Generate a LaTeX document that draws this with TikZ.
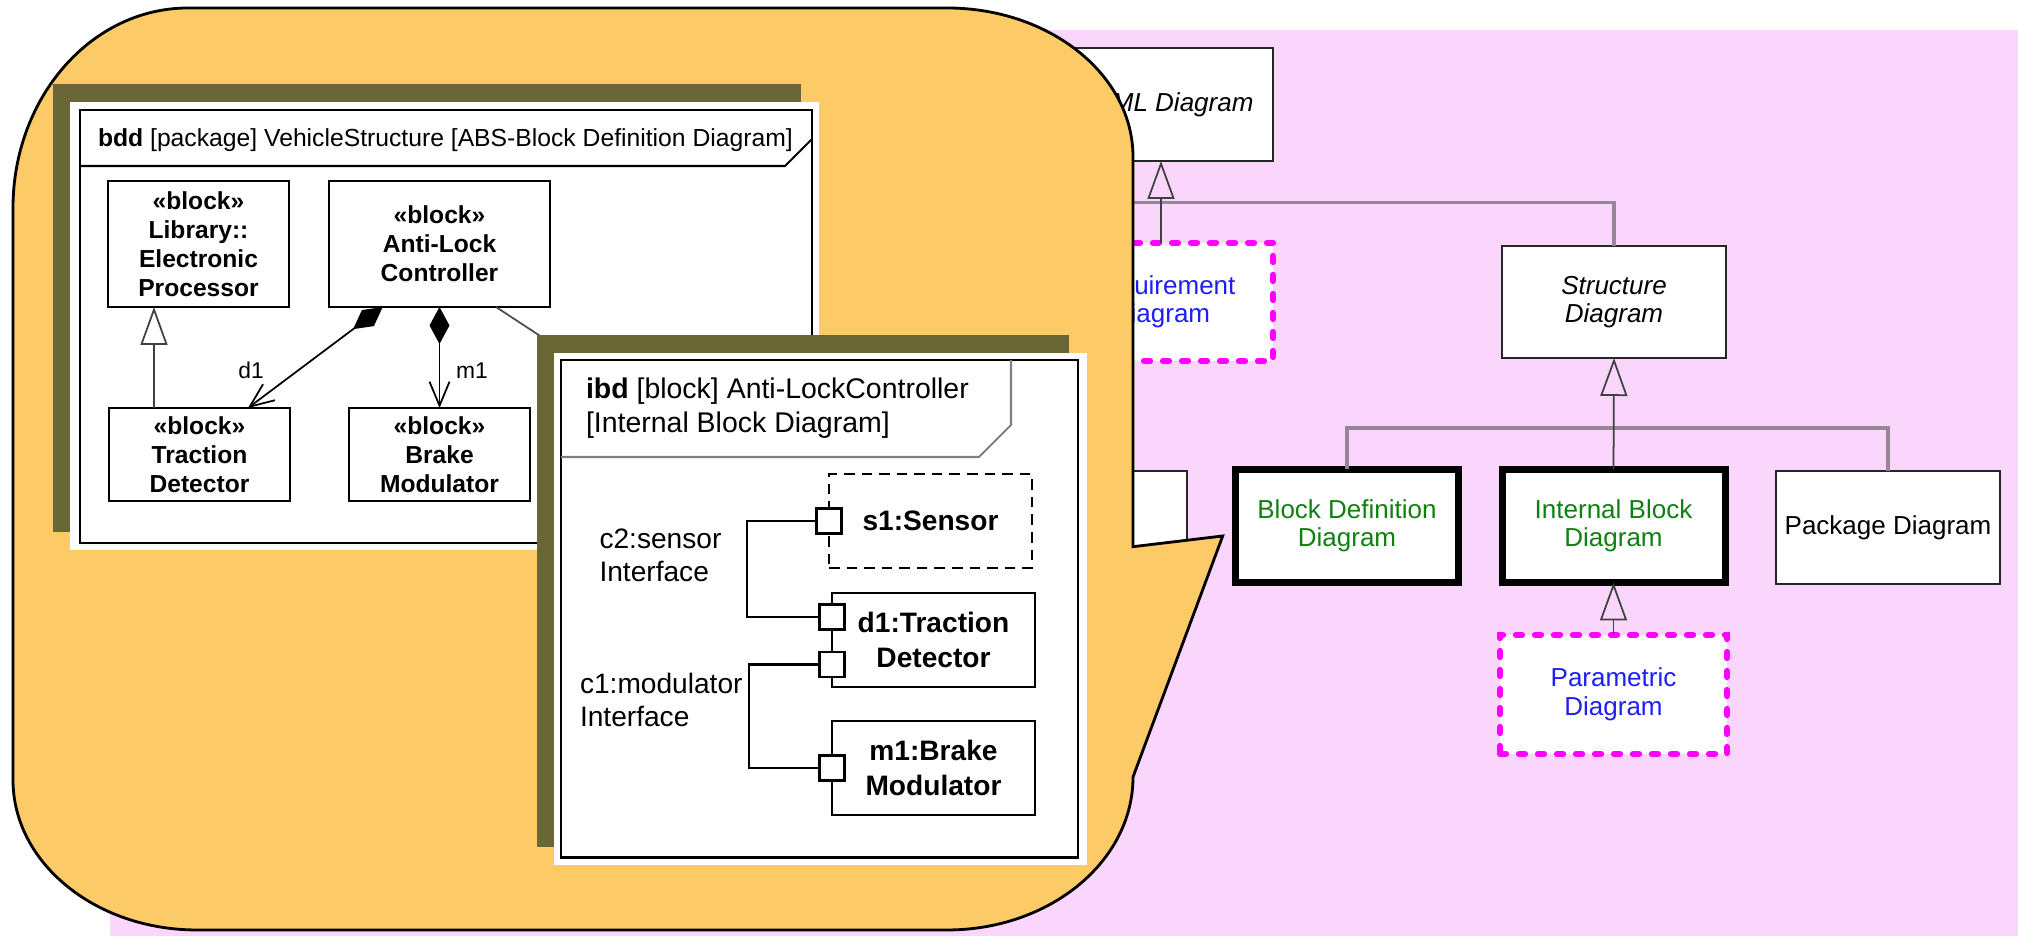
\documentclass[tikz,border=0pt]{standalone}
\usepackage{fontspec}
\setmainfont{Liberation Sans}
\usetikzlibrary{arrows.meta}
\definecolor{bgpink}{RGB}{251,214,252}
\definecolor{callout}{RGB}{253,202,104}
\definecolor{olive}{RGB}{105,103,53}
\definecolor{treegray}{RGB}{150,135,150}
\definecolor{diaggreen}{RGB}{16,128,16}
\definecolor{diagblue}{RGB}{30,30,245}
\definecolor{dotmag}{RGB}{255,0,255}
\begin{document}
\begin{tikzpicture}[x=1cm,y=1cm,
  every node/.style={inner sep=0pt,outer sep=0pt},
  tax/.style={draw=black!85,line width=0.6pt,fill=white,align=center,font=\fontsize{7.4}{8.1}\selectfont},
  taxit/.style={tax,font=\itshape\fontsize{7.4}{8.1}\selectfont},
  taxbold/.style={tax,draw=black,line width=2pt,text=diaggreen},
  taxdot/.style={tax,draw=dotmag,line width=1.8pt,dash pattern=on 0.06cm off 0.13cm,line cap=round,text=diagblue},
  gen/.style={-{Triangle[open,length=0.38cm,width=0.27cm]},line width=0.5pt,draw=black!75},
  tree/.style={line width=0.9pt,draw=treegray},
  blk/.style={draw,line width=0.6pt,fill=white,align=center,font=\bfseries\fontsize{7}{8.25}\selectfont},
  part/.style={draw,line width=0.6pt,fill=white,align=center,font=\bfseries\fontsize{8}{10}\selectfont},
  port/.style={draw,line width=0.6pt,fill=white,minimum size=0.25cm},
  comp/.style={{Diamond[length=0.37cm,width=0.2cm]}-{Straight Barb[length=0.24cm,width=0.2cm]},line width=0.5pt},
  lbl/.style={font=\fontsize{8}{9.4}\selectfont,align=left,anchor=west}]
\useasboundingbox (0,0) rectangle (20.18,9.36);
\fill[bgpink] (1.10,0) rectangle (20.18,9.06);
\node[taxit,minimum width=2.24cm,minimum height=1.13cm] (sysml) at (11.61,8.315) {SysML Diagram};
\node[taxdot,minimum width=2.24cm,minimum height=1.18cm] (req) at (11.61,6.34) {Requirement\\Diagram};
\node[taxit,minimum width=2.24cm,minimum height=1.12cm] (struct) at (16.14,6.34) {Structure\\Diagram};
\node[tax,minimum width=1.87cm,minimum height=1.13cm] (behav) at (10.935,4.085) {};
\node[taxbold,minimum width=2.23cm,minimum height=1.13cm] (bddbox) at (13.47,4.10) {Block Definition\\Diagram};
\node[taxbold,minimum width=2.23cm,minimum height=1.13cm] (ibdbox) at (16.135,4.10) {Internal Block\\Diagram};
\node[tax,minimum width=2.24cm,minimum height=1.13cm] (pkg) at (18.88,4.085) {Package Diagram};
\node[taxdot,minimum width=2.27cm,minimum height=1.19cm] (param) at (16.135,2.415) {Parametric\\Diagram};
\coordinate (behavjoin) at (10.0,7.333);
\draw[tree] (struct.north) |- (behavjoin);
\draw[gen] (req.north) -- (sysml.south);
\draw[tree] (bddbox.north) -- ++(0,0.415) -| (pkg.north);
\draw[gen] (ibdbox.north) -- (struct.south);
\draw[gen] (param.north) -- (ibdbox.south);
\draw[fill=callout,line width=0.8pt] (0.13,7.28) arc[start angle=180,end angle=90,x radius=1.75cm,y radius=2cm]
  -- (9.47,9.28) arc[start angle=90,end angle=0,x radius=1.86cm,y radius=1.49cm]
  -- (11.33,3.893) -- (12.227,4.0) -- (11.33,1.59)
  arc[start angle=0,end angle=-90,x radius=1.86cm,y radius=1.53cm]
  -- (1.97,0.06) arc[start angle=270,end angle=180,x radius=1.84cm,y radius=1.5cm] -- cycle;
\fill[olive] (0.53,8.52) rectangle (8.01,4.04);
\fill[white] (0.70,8.34) rectangle (8.19,3.86);
\draw[line width=0.6pt] (0.80,8.26) rectangle (8.12,3.93);
\draw[line width=0.6pt] (0.80,7.70) -- (7.85,7.70) -- (8.12,7.97);
\node[anchor=base west,font=\fontsize{7.03}{8}\selectfont] (bddhead) at (0.98,7.89) {\textbf{bdd} [package] VehicleStructure [ABS-Block Definition Diagram]};
\node[blk,minimum width=1.81cm,minimum height=1.26cm] (ep) at (1.985,6.92) {«block»\\Library::\\Electronic\\Processor};
\node[blk,minimum width=2.21cm,minimum height=1.26cm] (al) at (4.395,6.92) {«block»\\Anti-Lock\\Controller};
\node[blk,minimum width=1.81cm,minimum height=0.93cm] (td) at (1.995,4.815) {«block»\\Traction\\Detector};
\node[blk,minimum width=1.81cm,minimum height=0.93cm] (bm) at (4.395,4.815) {«block»\\Brake\\Modulator};
\draw[gen] ([xshift=-0.455cm]td.north) -- ([xshift=-0.445cm]ep.south);
\draw[comp] ([xshift=-0.568cm]al.south) -- ([xshift=0.485cm]td.north);
\draw[comp] (al.south) -- (bm.north);
\node[font=\fontsize{6.5}{7}\selectfont] (d1lbl) at (2.51,5.66) {d1};
\node[font=\fontsize{6.5}{7}\selectfont] (m1lbl) at (4.72,5.65) {m1};
\coordinate (snsr) at (5.6,5.87);
\draw[line width=0.5pt,draw=black!70] ([xshift=0.565cm]al.south) -- (snsr);
\fill[olive] (5.37,6.01) rectangle (10.69,0.89);
\fill[white] (5.54,5.83) rectangle (10.87,0.71);
\draw[line width=0.6pt] (5.61,5.76) rectangle (10.78,0.785);
\draw[line width=0.6pt,draw=black!50] (5.61,4.79) -- (9.79,4.79) -- (10.11,5.11) -- (10.11,5.76);
\node[anchor=west,align=left,font=\fontsize{8.1}{9.7}\selectfont] (ibdhead) at (5.86,5.28) {\textbf{ibd} [block] Anti-LockController\\{}[Internal Block Diagram]};
\node[part,dash pattern=on 3pt off 2pt,minimum width=2.03cm,minimum height=0.94cm] (s1) at (9.305,4.15) {s1:Sensor};
\node[part,minimum width=2.03cm,minimum height=0.94cm] (d1) at (9.335,2.96) {d1:Traction\\Detector};
\node[part,minimum width=2.03cm,minimum height=0.94cm] (m1) at (9.335,1.68) {m1:Brake\\Modulator};
\node[port] (ps1) at (s1.west) {};
\node[port] (pd1a) at ([yshift=0.23cm]d1.west) {};
\node[port] (pd1b) at ([yshift=-0.245cm]d1.west) {};
\node[port] (pm1) at (m1.west) {};
\draw[line width=0.6pt] (ps1.west) -- ++(-0.695,0) |- (pd1a.west);
\draw[line width=0.6pt] (pd1b.west) -- ++(-0.705,0) |- (pm1.west);
\node[lbl] (c2lbl) at (5.995,3.81) {c2:sensor\\Interface};
\node[lbl] (c1lbl) at (5.80,2.36) {c1:modulator\\Interface};
\end{tikzpicture}
\end{document}
